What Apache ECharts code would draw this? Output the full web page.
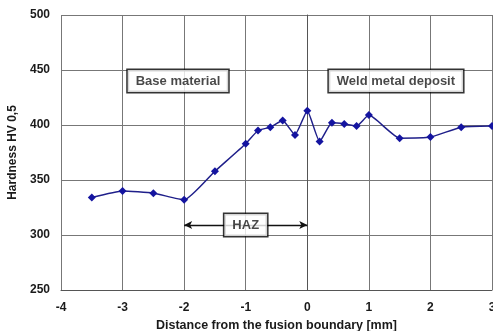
<!DOCTYPE html>
<html>
<head>
<meta charset="utf-8">
<script src="https://cdn.jsdelivr.net/npm/echarts@6/dist/echarts.min.js"></script>
<style>
  html, body { margin: 0; padding: 0; background: #fff; }
  #chart { width: 493px; height: 331px; }
</style>
</head>
<body>
<div id="chart"></div>
<script>
// distance from fusion boundary [mm] and hardness HV 0,5
var distance = [-3.5, -3, -2.5, -2, -1.5, -1, -0.8, -0.6, -0.4, -0.2, 0, 0.2, 0.4, 0.6, 0.8, 1, 1.5, 2, 2.5, 3];
var hardness = [334, 340, 338, 332, 358, 383, 395, 398, 404, 391, 413, 385, 402, 401, 399, 409, 388, 389, 398, 399];
var xTicks = [-4, -3, -2, -1, 0, 1, 2, 3];
var yTicks = [250, 300, 350, 400, 450, 500];
var hazRange = [-2, 0];

var pts = distance.map(function (d, i) { return [d, hardness[i]]; });
var txt = { fontFamily: 'Liberation Sans, Arial, sans-serif', fontWeight: 'bold', color: '#1a1a1a' };

var chart = echarts.init(document.getElementById('chart'));
chart.setOption({
  animation: false,
  backgroundColor: '#fff',
  grid: { left: 61, right: 1, top: 15, bottom: 41, outerBoundsMode: 'none' },
  xAxis: {
    type: 'value',
    min: xTicks[0], max: xTicks[xTicks.length - 1], interval: 1,
    name: 'Distance from the fusion boundary [mm]',
    nameLocation: 'middle', nameGap: 28,
    nameTextStyle: Object.assign({ fontSize: 12.5 }, txt),
    axisLine: { show: true, lineStyle: { color: '#555', width: 1 } },
    axisTick: { show: false },
    axisLabel: Object.assign({ fontSize: 12, margin: 12 }, txt),
    splitLine: { show: true, lineStyle: { color: '#777', width: 1 } }
  },
  yAxis: {
    type: 'value',
    min: yTicks[0], max: yTicks[yTicks.length - 1], interval: 50,
    name: 'Hardness HV 0,5',
    nameLocation: 'middle', nameGap: 38,
    nameTextStyle: Object.assign({ fontSize: 12 }, txt),
    axisLine: { show: true, lineStyle: { color: '#555', width: 1 } },
    axisTick: { show: false },
    axisLabel: Object.assign({ fontSize: 12, margin: 11 }, txt),
    splitLine: { show: true, lineStyle: { color: '#777', width: 1 } }
  },
  series: [
    {
      type: 'line',
      data: pts,
      smooth: 0.15,
      symbol: 'diamond',
      symbolSize: 8,
      lineStyle: { color: '#1f1f8a', width: 1.5 },
      itemStyle: { color: '#1414a0' },
      z: 3
    },
    {
      // HAZ double arrow
      type: 'line',
      data: [],
      markLine: {
        silent: true,
        symbol: ['arrow', 'arrow'],
        symbolSize: [6, 8],
        label: { show: false },
        lineStyle: { color: '#111', width: 1.3, type: 'solid' },
        data: [[{ coord: [hazRange[0], 309] }, { coord: [hazRange[1], 309] }]]
      },
      z: 4
    },
    {
      // text boxes
      type: 'scatter',
      symbolSize: 0,
      silent: true,
      z: 5,
      label: {
        show: true,
        position: 'inside',
        formatter: function (p) { return p.data.name; },
        backgroundColor: '#fff',
        borderColor: '#000',
        borderWidth: 1.5,
        padding: [5, 8, 4, 8],
        fontSize: 13,
        fontFamily: 'Liberation Sans, Arial, sans-serif',
        fontWeight: 'bold',
        color: '#1a1a1a'
      },
      data: [
        { name: 'Base material', value: [-2.1, 440] },
        { name: 'Weld metal deposit', value: [1.44, 440] },
        { name: 'HAZ', value: [-1.0, 309] }
      ]
    }
  ]
});
</script>
</body>
</html>
